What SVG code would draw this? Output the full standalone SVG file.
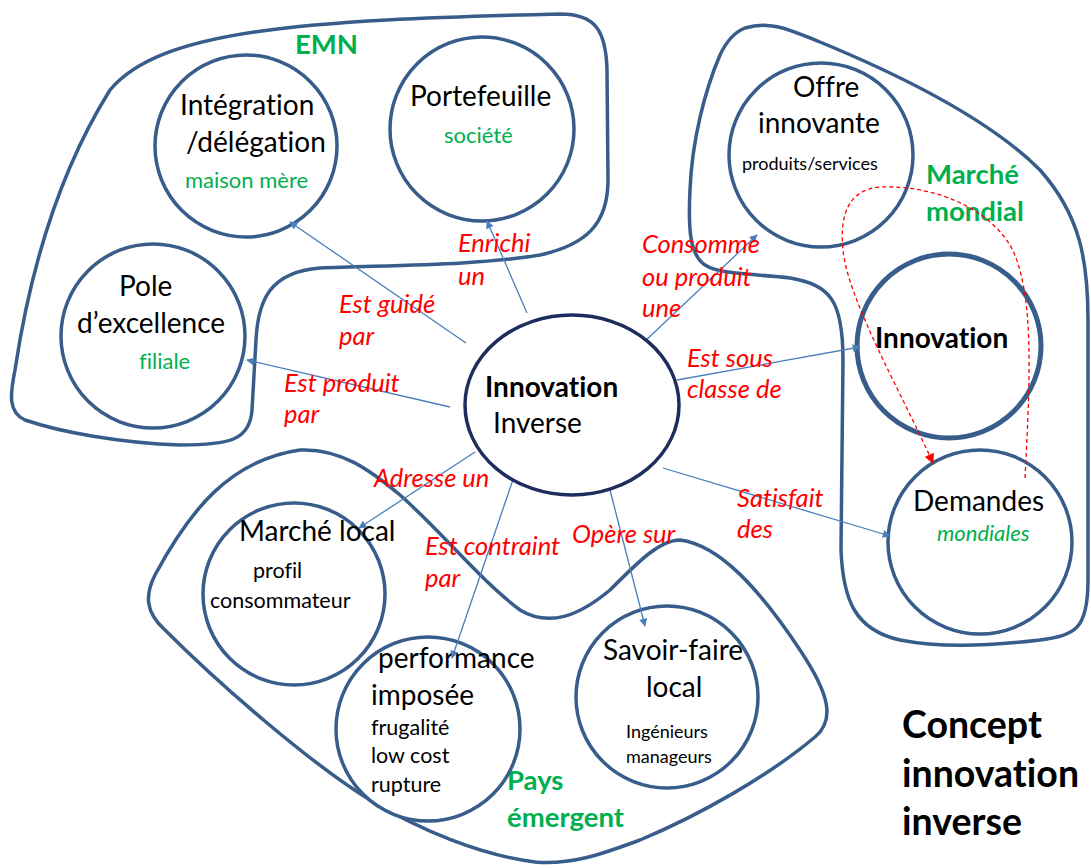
<svg xmlns="http://www.w3.org/2000/svg" width="1091" height="868" viewBox="0 0 1091 868">
<defs>
<marker id="ah" viewBox="0 0 10 10" refX="9" refY="5" markerWidth="10" markerHeight="8" markerUnits="userSpaceOnUse" orient="auto"><path d="M0,0 L10,5 L0,10 z" fill="#4a7ebb"/></marker>
<marker id="ahr" viewBox="0 0 10 10" refX="9" refY="5" markerWidth="11" markerHeight="10" markerUnits="userSpaceOnUse" orient="auto"><path d="M0,0 L10,5 L0,10 z" fill="#ff0000"/></marker>
<style>
text{font-variant-ligatures:none;font-feature-settings:"liga" 0}
.blob{fill:none;stroke:#385d8a;stroke-width:3.5;stroke-linejoin:round}
.c{fill:#fff;stroke:#385d8a;stroke-width:3.5}
.t{font-family:Lato,"Liberation Sans",sans-serif;fill:#000;font-size:28px}
.s{font-family:Lato,"Liberation Sans",sans-serif;fill:#000;font-size:21.5px}
.g{font-family:Lato,"Liberation Sans",sans-serif;fill:#00b050;font-size:22px}
.gb{font-family:Lato,"Liberation Sans",sans-serif;fill:#00b050;font-size:27.5px;font-weight:bold}
.r{font-family:Lato,"Liberation Sans",sans-serif;fill:#ff0000;font-size:25.5px;font-style:italic}
.b{font-family:Lato,"Liberation Sans",sans-serif;fill:#000;font-weight:bold}
.a{fill:none;stroke:#4a7ebb;stroke-width:1.3;marker-end:url(#ah)}
</style>
</defs>
<rect width="1091" height="868" fill="#fff"/>
<g id="regions">
<path class="blob" d="M560,14 C595,14 606,30 607,70 L608,180 C608,225 585,245 540,255 C480,265 400,265 320,268 C270,272 258,300 256,340 L252,410 C250,440 230,445 180,445 C120,443 60,432 25,420 C8,412 10,395 15,370 C30,270 60,170 110,90 C160,30 300,20 560,14 Z"/>
<path class="blob" d="M745,28 C770,20 790,30 820,42 C900,75 990,120 1040,170 C1080,215 1088,260 1088,320 L1088,580 C1088,630 1075,635 1040,640 C990,646 940,648 900,640 C855,630 843,600 841,550 L843,360 C843,300 830,285 790,278 C760,274 720,275 705,265 C690,255 688,230 690,190 C692,140 705,90 720,55 C727,40 735,32 745,28 Z"/>
<path class="blob" d="M300,450 C340,448 370,470 400,495 C440,530 480,580 520,610 C550,628 580,615 610,590 C640,560 660,540 680,540 C720,545 760,590 800,650 C830,695 835,720 815,737 C770,775 700,815 640,840 C600,855 570,865 535,862 C480,855 420,830 370,800 C310,763 220,685 165,630 C145,612 145,595 155,575 C190,510 230,460 300,450 Z"/>
<text class="gb" x="295" y="54">EMN</text>
<text class="gb" x="926" y="184">Marché</text>
<text class="gb" x="926" y="221">mondial</text>
<text class="gb" x="507" y="790">Pays</text>
<text class="gb" x="507" y="827">émergent</text>
</g>
<g id="n-integration">
<circle class="c" cx="246" cy="146" r="91"/>
<text class="t" x="180" y="115">Intégration</text>
<text class="t" x="186" y="152">/délégation</text>
<text class="g" x="185" y="188">maison mère</text>
</g>
<g id="n-portefeuille">
<circle class="c" cx="482" cy="129" r="92"/>
<text class="t" x="410" y="106">Portefeuille</text>
<text class="g" x="444" y="143">société</text>
</g>
<g id="n-pole">
<circle class="c" cx="153" cy="336" r="92"/>
<text class="t" x="119" y="296">Pole</text>
<text class="t" x="77" y="333">d’excellence</text>
<text class="g" x="139" y="369">filiale</text>
</g>
<g id="n-offre">
<circle class="c" cx="821" cy="155" r="92"/>
<text class="t" x="793" y="97">Offre</text>
<text class="t" x="758" y="133">innovante</text>
<text class="s" x="742" y="170" style="font-size:18px">produits/services</text>
</g>
<g id="n-innovation">
<circle class="c" cx="949" cy="346" r="92" style="stroke-width:5"/>
<text class="b" x="875" y="348" style="font-size:28px">Innovation</text>
</g>
<g id="n-demandes">
<circle class="c" cx="980" cy="542" r="92"/>
<text class="t" x="913" y="511">Demandes</text>
<text class="g" x="937" y="541" style="font-style:italic">mondiales</text>
</g>
<g id="n-savoir">
<circle class="c" cx="667" cy="697" r="91"/>
<text class="t" x="603" y="660">Savoir-faire</text>
<text class="t" x="646" y="697">local</text>
<text class="s" x="626" y="738" style="font-size:18px">Ingénieurs</text>
<text class="s" x="626" y="763" style="font-size:18px">manageurs</text>
</g>
<g id="n-marche">
<circle class="c" cx="294" cy="594" r="91"/>
<text class="t" x="239" y="541">Marché local</text>
<text class="s" x="253" y="578">profil</text>
<text class="s" x="210" y="608">consommateur</text>
</g>
<g id="n-performance">
<circle class="c" cx="428" cy="729" r="92"/>
<text class="t" x="378" y="668">performance</text>
<text class="t" x="371" y="705">imposée</text>
<text class="s" x="371" y="735">frugalité</text>
<text class="s" x="371" y="763">low cost</text>
<text class="s" x="371" y="792">rupture</text>
</g>
<g id="connectors">
<line class="a" x1="466" y1="343" x2="290" y2="222"/>
<line class="a" x1="527" y1="313" x2="487" y2="221"/>
<line class="a" x1="450" y1="407" x2="247" y2="360"/>
<line class="a" x1="643" y1="343" x2="757" y2="235"/>
<line class="a" x1="677" y1="380" x2="860" y2="347"/>
<line class="a" x1="663" y1="468" x2="890" y2="536"/>
<line class="a" x1="610" y1="490" x2="645" y2="626"/>
<line class="a" x1="475" y1="452" x2="359" y2="528"/>
<line class="a" x1="517" y1="468" x2="452" y2="658"/>
<path d="M1025,478 C1030,380 1035,290 1010,245 C985,205 930,185 880,187 C845,190 840,220 843,250 C848,300 900,390 933,463" fill="none" stroke="#ff0000" stroke-width="1.3" stroke-dasharray="4,3" marker-end="url(#ahr)"/>
</g>
<g id="innovation-inverse">
<ellipse cx="572" cy="405" rx="107" ry="90" fill="#fff" stroke="#1f2d5e" stroke-width="3.5"/>
<text class="b" x="485" y="397" style="font-size:28px">Innovation</text>
<text class="t" x="493" y="433">Inverse</text>
</g>
<g id="labels">
<text class="r" x="458" y="252">Enrichi</text>
<text class="r" x="458" y="285">un</text>
<text class="r" x="339" y="313">Est guidé</text>
<text class="r" x="339" y="345">par</text>
<text class="r" x="284" y="392">Est produit</text>
<text class="r" x="284" y="423">par</text>
<text class="r" x="642" y="253">Consomme</text>
<text class="r" x="642" y="286">ou produit</text>
<text class="r" x="642" y="317">une</text>
<text class="r" x="687" y="367">Est sous</text>
<text class="r" x="687" y="398">classe de</text>
<text class="r" x="737" y="507">Satisfait</text>
<text class="r" x="737" y="538">des</text>
<text class="r" x="572" y="543">Opère sur</text>
<text class="r" x="374" y="487">Adresse un</text>
<text class="r" x="425" y="555">Est contraint</text>
<text class="r" x="425" y="587">par</text>
</g>
<g id="title">
<text class="b" x="902" y="738" style="font-size:37.5px">Concept</text>
<text class="b" x="902" y="787" style="font-size:37.5px">innovation</text>
<text class="b" x="902" y="835" style="font-size:37.5px">inverse</text>
</g>
</svg>
